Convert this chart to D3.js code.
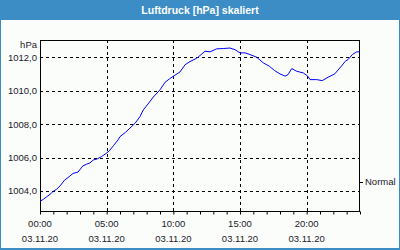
<!DOCTYPE html>
<html><head><meta charset="utf-8">
<script src="https://cdn.jsdelivr.net/npm/d3@7"></script>
<style>html,body{margin:0;padding:0;background:#fff;}svg{display:block;}</style>
</head><body>
<script>
const title = "Luftdruck [hPa] skaliert";
const unitLabel = "hPa";
const hours = [0,0.25,0.5,0.75,1,1.25,1.5,1.85,2.1,2.48,2.85,3.22,3.5,3.75,4,4.3,4.6,4.97,5.2,5.5,5.85,6,6.4,6.75,7.13,7.5,7.75,8.1,8.5,9,9.38,9.7,10,10.5,10.88,11.25,11.75,12,12.38,12.75,13.25,13.75,14.25,14.63,15,15.38,15.75,16.25,16.75,17.2,17.6,18,18.38,18.6,18.88,19.25,19.75,20.08,20.25,20.75,21.17,21.6,22.1,22.6,22.9,23.1,23.43,23.75,23.95];
const pressure = [1003.38,1003.5,1003.65,1003.8,1003.98,1004.1,1004.3,1004.65,1004.8,1005.05,1005.13,1005.5,1005.6,1005.68,1005.85,1005.92,1006.05,1006.25,1006.4,1006.7,1007.05,1007.25,1007.5,1007.76,1008.05,1008.45,1008.85,1009.2,1009.62,1010.05,1010.5,1010.7,1010.86,1011.12,1011.55,1011.74,1011.94,1012.1,1012.36,1012.32,1012.5,1012.52,1012.55,1012.45,1012.26,1012.26,1012.16,1012.0,1011.66,1011.46,1011.2,1011.0,1010.87,1010.96,1011.32,1011.16,1011.06,1010.87,1010.66,1010.66,1010.6,1010.8,1011.0,1011.46,1011.76,1011.86,1012.16,1012.32,1012.32];
const yTicks = [1004,1006,1008,1010,1012];
const yTickLabels = ["1004,0","1006,0","1008,0","1010,0","1012,0"];
const xTicks = [0,5,10,15,20];
const xTimeLabels = ["00:00","05:00","10:00","15:00","20:00"];
const xDateLabels = ["03.11.20","03.11.20","03.11.20","03.11.20","03.11.20"];
const minorTicks = d3.range(0,25,1);
const normalValue = 1004.55;
const normalLabel = "Normal";

const W=400,H=250;
const L=40,R=360,T=40,B=211;
const svg=d3.select("body").append("svg").attr("width",W).attr("height",H);
const font="'Liberation Sans', Arial, sans-serif";

svg.append("rect").attr("x",0).attr("y",0).attr("width",W).attr("height",H).attr("fill","#3c8dc5");
svg.append("rect").attr("x",1).attr("y",20).attr("width",W-2).attr("height",H-22).attr("fill","#fbfdfb");

svg.append("text").attr("x",200).attr("y",14).attr("text-anchor","middle")
  .attr("font-family",font).attr("font-weight","bold").attr("font-size",10.5).attr("fill","#ffffff").text(title);

const x=d3.scaleLinear().domain([0,24]).range([L,R]);
const y=d3.scaleLinear().domain([1002.8,1013.03]).range([B,T]);

const g=svg.append("g");
// grid
g.selectAll(".hg").data(yTicks).join("line")
  .attr("x1",L).attr("x2",R).attr("y1",d=>Math.round(y(d))+0.5).attr("y2",d=>Math.round(y(d))+0.5)
  .attr("stroke","#000").attr("stroke-width",1).attr("stroke-dasharray","3,3");
g.selectAll(".vg").data(xTicks.filter(d=>d>0)).join("line")
  .attr("y1",T).attr("y2",B).attr("x1",d=>Math.round(x(d))+0.5).attr("x2",d=>Math.round(x(d))+0.5)
  .attr("stroke","#000").attr("stroke-width",1).attr("stroke-dasharray","3,3");

// frame
g.append("rect").attr("x",L+0.5).attr("y",T+0.5).attr("width",R-L-1).attr("height",B-T)
  .attr("fill","none").attr("stroke","#000").attr("stroke-width",1);

// x axis ticks
const xAxis=d3.axisBottom(x).tickValues(minorTicks).tickSize(3).tickFormat("");
const xa=svg.append("g").attr("transform",`translate(0,${B+0.5})`).call(xAxis);
xa.select(".domain").remove();
xa.selectAll("line").attr("stroke","#000");

// x labels
svg.selectAll(".xt").data(xTicks).join("text")
  .attr("x",d=>x(d)).attr("y",227).attr("text-anchor","middle")
  .attr("font-family",font).attr("font-size",9.5).attr("fill","#1a1a2a").text((d,i)=>xTimeLabels[i]);
svg.selectAll(".xd").data(xTicks).join("text")
  .attr("x",d=>x(d)).attr("y",242).attr("text-anchor","middle")
  .attr("font-family",font).attr("font-size",9.5).attr("fill","#1a1a2a").text((d,i)=>xDateLabels[i]);

// y labels
svg.selectAll(".yt").data(yTicks).join("text")
  .attr("x",37).attr("y",d=>y(d)+3.5).attr("text-anchor","end")
  .attr("font-family",font).attr("font-size",9.5).attr("fill","#1a1a2a").text((d,i)=>yTickLabels[i]);
svg.append("text").attr("x",37).attr("y",48).attr("text-anchor","end")
  .attr("font-family",font).attr("font-size",9.5).attr("fill","#1a1a2a").text(unitLabel);

// normal marker
svg.append("line").attr("x1",R).attr("x2",R+3).attr("y1",Math.round(y(normalValue))+0.5).attr("y2",Math.round(y(normalValue))+0.5)
  .attr("stroke","#000");
svg.append("text").attr("x",R+5).attr("y",y(normalValue)+3.5)
  .attr("font-family",font).attr("font-size",9.5).attr("fill","#1a1a2a").text(normalLabel);

// line
const data=hours.map((h,i)=>({h,v:pressure[i]}));
svg.append("path").datum(data)
  .attr("d",d3.line().x(d=>x(d.h)).y(d=>y(d.v)))
  .attr("fill","none").attr("stroke","#0000ff").attr("stroke-width",1);
</script>
</body></html>
